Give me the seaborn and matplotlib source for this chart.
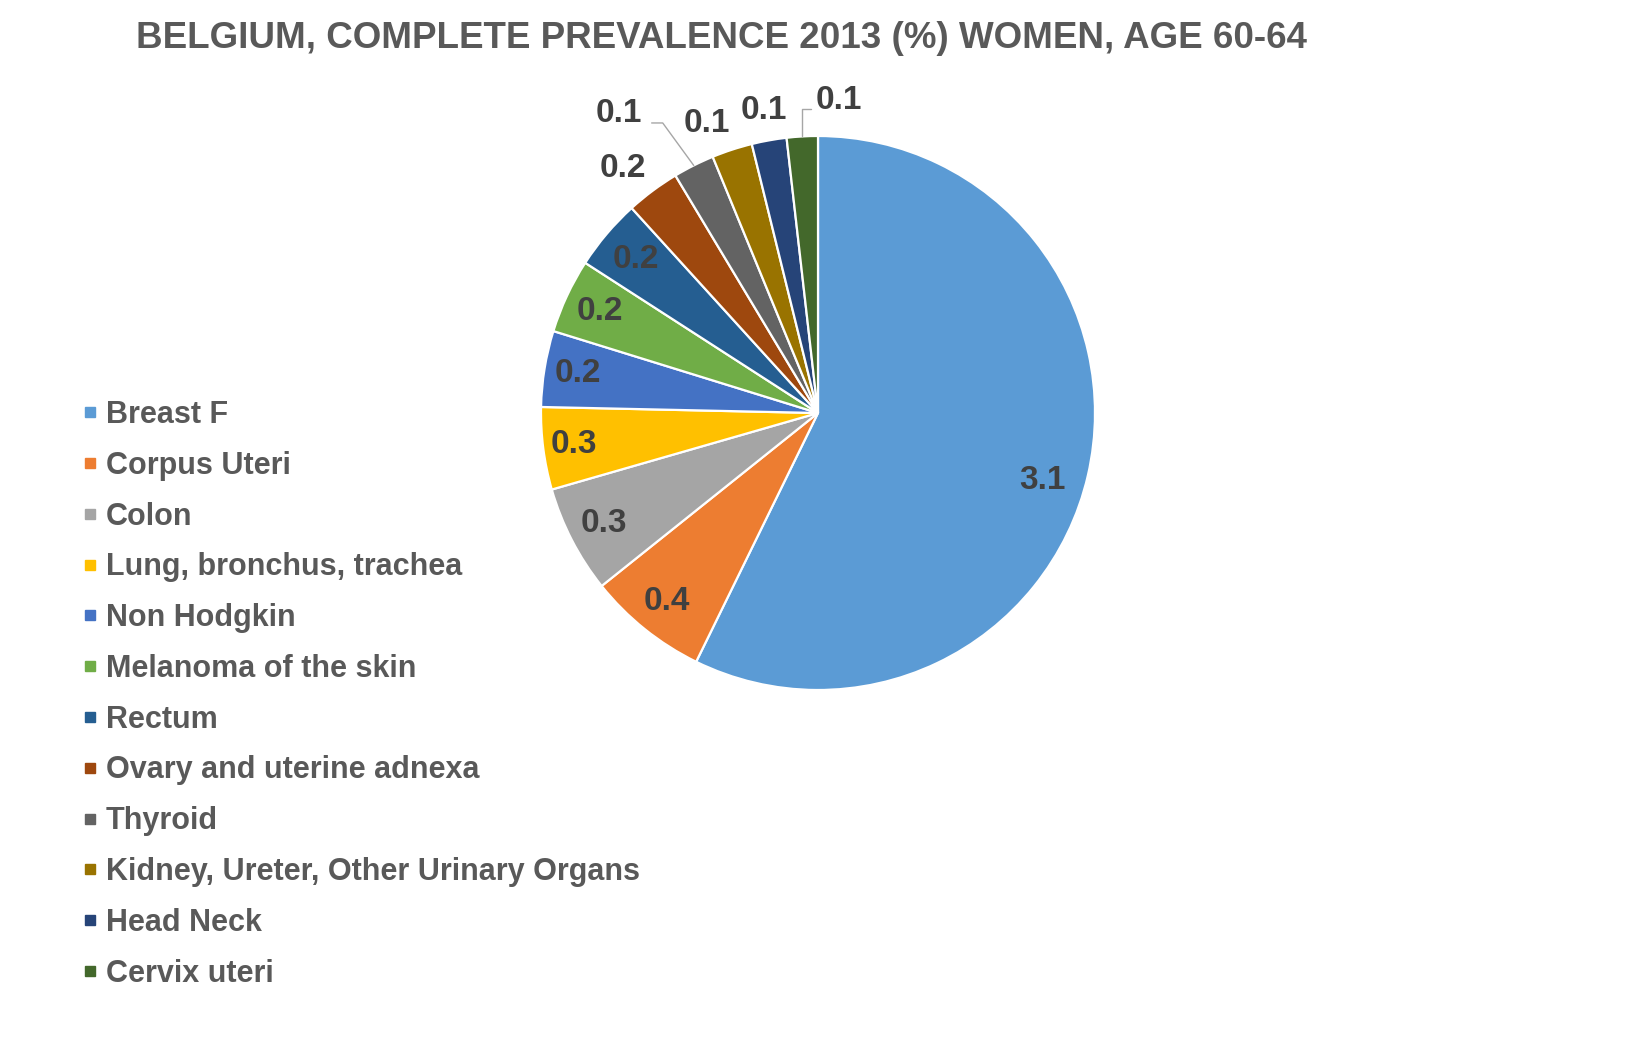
import numpy as np
import matplotlib
matplotlib.use("Agg")
import matplotlib.pyplot as plt
import seaborn as sns
from matplotlib.lines import Line2D

categories = ["Breast F", "Corpus Uteri", "Colon", "Lung, bronchus, trachea", "Non Hodgkin",
              "Melanoma of the skin", "Rectum", "Ovary and uterine adnexa", "Thyroid",
              "Kidney, Ureter, Other Urinary Organs", "Head Neck", "Cervix uteri"]
values = [3.10, 0.38, 0.34, 0.26, 0.24, 0.235, 0.224, 0.17, 0.13, 0.128, 0.11, 0.098]
colors = ["#5B9BD5", "#ED7D31", "#A5A5A5", "#FFC000", "#4472C4", "#70AD47",
          "#255E91", "#9E480E", "#636363", "#997300", "#264478", "#43682B"]
title = "BELGIUM, COMPLETE PREVALENCE 2013 (%) WOMEN, AGE 60-64"

# label layout: radial factor and angular nudge (deg) relative to wedge middle
label_r = [0.845, 0.87, 0.87, 0.89, 0.88, 0.87, 0.86, 1.13, 1.30, 1.12, 1.11, 1.13]
label_d = [-3.8, 0, 0, 0, 0, 0, 0, 1.9, 7.0, 3.0, 0, -7.0]

sns.set_theme(style="white")
plt.rcParams['font.family'] = ['Liberation Sans', 'DejaVu Sans']
palette = sns.color_palette(colors)

W, H = 1626, 1045
fig = plt.figure(figsize=(W / 100, H / 100), dpi=100)

R = 277.0
cx, cy = 818.0, 413.0
lim = 1.25
side = 2 * lim * R
ax = fig.add_axes([(cx - side / 2) / W, (H - cy - side / 2) / H, side / W, side / H])
wedges, _ = ax.pie(values, colors=palette, startangle=90, counterclock=False,
                   radius=1.0, wedgeprops=dict(edgecolor="white", linewidth=1.6))
ax.set_xlim(-lim, lim)
ax.set_ylim(-lim, lim)
ax.set_aspect("equal")
ax.axis("off")

lab_col = "#404040"
for i, w in enumerate(wedges):
    mid = np.deg2rad((w.theta1 + w.theta2) / 2 + label_d[i])
    x, y = label_r[i] * np.cos(mid), label_r[i] * np.sin(mid)
    ax.text(x, y, f"{values[i]:.1f}", ha="center", va="center", fontsize=24,
            fontweight="bold", color=lab_col)

def edge_point(w, frac=0.5, r=1.0):
    a = np.deg2rad(w.theta1 + (w.theta2 - w.theta1) * frac)
    return r * np.cos(a), r * np.sin(a)

line_kw = dict(color="#A6A6A6", lw=1.0)
# Thyroid leader
wt = wedges[8]
ex, ey = edge_point(wt, 0.5, 1.0)
a = np.deg2rad((wt.theta1 + wt.theta2) / 2 + label_d[8])
tx, ty = label_r[8] * np.cos(a), label_r[8] * np.sin(a)
sx, sy = tx + 0.12, ty - 0.035
ax.plot([sx, sx + 0.04, ex], [sy, sy, ey], **line_kw)
# Cervix leader
wc = wedges[11]
ex, ey = edge_point(wc, 0.5, 1.0)
a = np.deg2rad((wc.theta1 + wc.theta2) / 2 + label_d[11])
tx, ty = label_r[11] * np.cos(a), label_r[11] * np.sin(a)
sx, sy = tx - 0.10, ty - 0.03
ax.plot([sx, ex, ex], [sy, sy, ey], **line_kw)

fig.text(721 / W, 1 - 38 / H, title, ha="center", va="center", fontsize=26.5,
         fontweight="bold", color="#595959")

handles = [Line2D([0], [0], marker="s", linestyle="none", markersize=7.5,
                  markerfacecolor=c, markeredgecolor=c) for c in colors]
leg = fig.legend(handles, categories, loc="upper left",
                 bbox_to_anchor=(83 / W, 1 - 400 / H), frameon=False,
                 prop=dict(size=22, weight="bold"), labelcolor="#595959",
                 handlelength=0.45, handletextpad=0.3, labelspacing=0.68,
                 borderaxespad=0, borderpad=0)

fig.savefig("out.png", dpi=100, facecolor="white")
